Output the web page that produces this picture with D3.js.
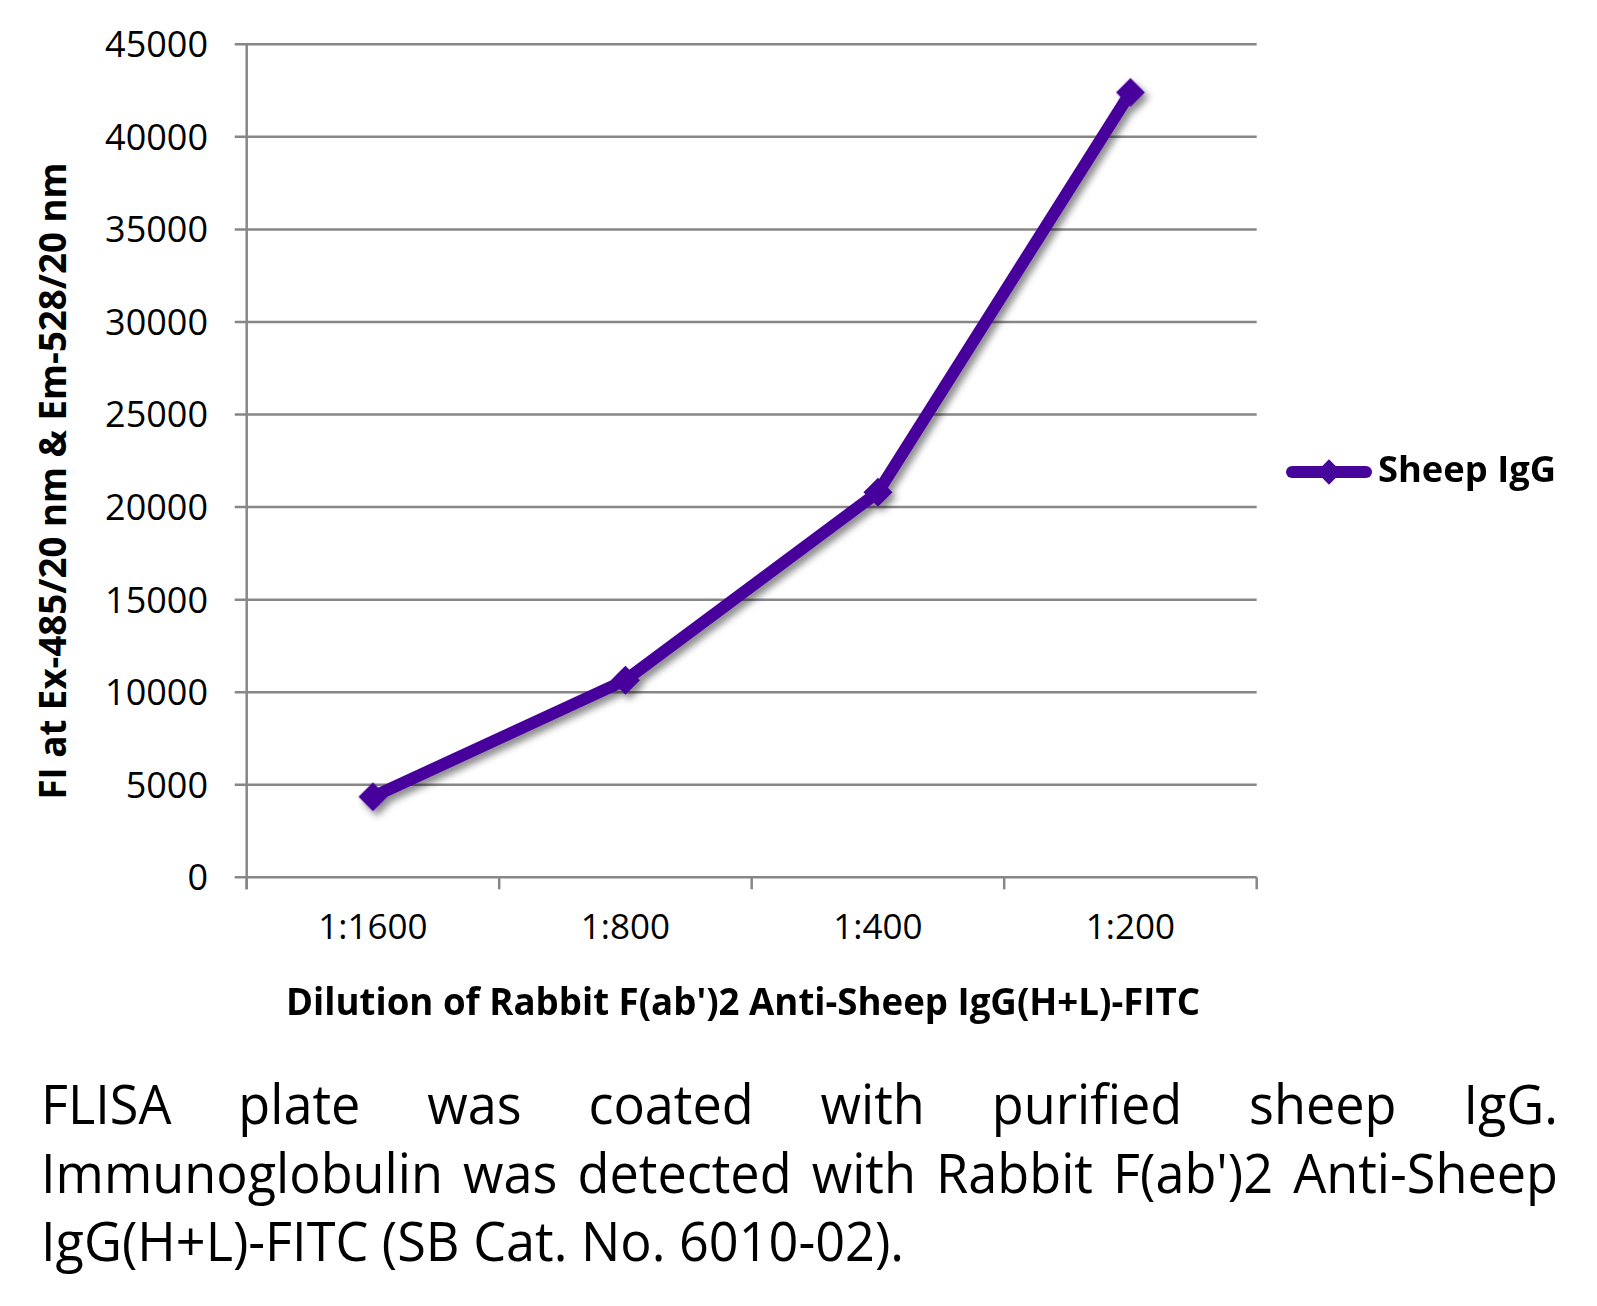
<!DOCTYPE html>
<html>
<head>
<meta charset="utf-8">
<script src="https://cdn.jsdelivr.net/npm/d3@7"></script>
<style>
  html, body { margin: 0; padding: 0; background: #fff; }
  svg { display: block; }
</style>
</head>
<body>
<svg id="chart" width="1597" height="1306"></svg>
<script>
// ---- data ----
const categories = ["1:1600", "1:800", "1:400", "1:200"];
const seriesName = "Sheep IgG";
const values = [4350, 10650, 20800, 42400];
const yTicks = [0, 5000, 10000, 15000, 20000, 25000, 30000, 35000, 40000, 45000];
const yTitle = "FI at Ex-485/20 nm & Em-528/20 nm";
const xTitle = "Dilution of Rabbit F(ab')2 Anti-Sheep IgG(H+L)-FITC";
const captionLines = [
  "FLISA plate was coated with purified sheep IgG.",
  "Immunoglobulin was detected with Rabbit F(ab')2 Anti-Sheep",
  "IgG(H+L)-FITC (SB Cat. No. 6010-02)."
];

const W = 1597, H = 1306;
const m = { left: 246.7, right: 1256.7, top: 44.3, bottom: 877.3 };
const lineColor = "#47069b";
const gridColor = "#878787";
const font = "'Open Sans', 'Noto Sans', sans-serif";

const svg = d3.select("#chart");

const defs = svg.append("defs");
const f = defs.append("filter").attr("id", "shadow")
  .attr("x", "-10%").attr("y", "-10%").attr("width", "130%").attr("height", "130%");
f.append("feDropShadow").attr("dx", 4).attr("dy", 5).attr("stdDeviation", 3.5)
  .attr("flood-color", "#000").attr("flood-opacity", 0.45);

const x = d3.scaleBand().domain(categories).range([m.left, m.right]).paddingInner(0).paddingOuter(0);
const y = d3.scaleLinear().domain([0, 45000]).range([m.bottom, m.top]);

// gridlines
svg.append("g").selectAll("line").data(yTicks).join("line")
  .attr("x1", m.left - 12).attr("x2", m.right)
  .attr("y1", d => y(d)).attr("y2", d => y(d))
  .attr("stroke", gridColor).attr("stroke-width", 2.5);

// y axis line
svg.append("line").attr("x1", m.left).attr("x2", m.left)
  .attr("y1", m.top).attr("y2", m.bottom + 12)
  .attr("stroke", gridColor).attr("stroke-width", 2.5);

// y tick labels
svg.append("g").selectAll("text").data(yTicks).join("text")
  .attr("x", 208).attr("y", d => y(d)).attr("dy", "0.36em")
  .attr("text-anchor", "end")
  .style("font-family", font).style("font-size", "36px").attr("fill", "#000")
  .text(d => d);

// x axis ticks (band boundaries)
const bounds = categories.map(c => x(c)).concat([x(categories[categories.length - 1]) + x.bandwidth()]);
svg.append("g").selectAll("line").data(bounds).join("line")
  .attr("x1", d => d).attr("x2", d => d)
  .attr("y1", m.bottom).attr("y2", m.bottom + 12)
  .attr("stroke", gridColor).attr("stroke-width", 2.5);

// x tick labels
svg.append("g").selectAll("text").data(categories).join("text")
  .attr("x", d => x(d) + x.bandwidth() / 2).attr("y", 939)
  .attr("text-anchor", "middle")
  .style("font-family", font).style("font-size", "35px").attr("fill", "#000")
  .text(d => d);

// series line
const pts = categories.map((c, i) => [x(c) + x.bandwidth() / 2, y(values[i])]);
const g = svg.append("g").attr("filter", "url(#shadow)");
g.append("path").attr("d", d3.line()(pts))
  .attr("fill", "none").attr("stroke", lineColor).attr("stroke-width", 12)
  .attr("stroke-linejoin", "round").attr("stroke-linecap", "round");
g.selectAll("path.mk").data(pts).join("path").attr("class", "mk")
  .attr("d", d3.symbol().type(d3.symbolSquare).size(420))
  .attr("transform", d => `translate(${d[0]},${d[1]}) rotate(45)`)
  .attr("fill", lineColor);

// y title
svg.append("text")
  .attr("transform", `translate(66, 481) rotate(-90)`)
  .attr("text-anchor", "middle")
  .style("font-family", font).style("font-size", "37px").style("font-weight", "bold")
  .attr("textLength", 637).attr("lengthAdjust", "spacingAndGlyphs")
  .attr("fill", "#000").text(yTitle);

// x title
svg.append("text")
  .attr("x", 743).attr("y", 1015).attr("text-anchor", "middle")
  .style("font-family", font).style("font-size", "37px").style("font-weight", "bold")
  .attr("textLength", 914).attr("lengthAdjust", "spacingAndGlyphs")
  .attr("fill", "#000").text(xTitle);

// legend
const lg = svg.append("g");
lg.append("line").attr("x1", 1292).attr("x2", 1366).attr("y1", 472).attr("y2", 472)
  .attr("stroke", lineColor).attr("stroke-width", 12).attr("stroke-linecap", "round");
lg.append("path").attr("transform", "translate(1329,472) rotate(45)")
  .attr("d", d3.symbol().type(d3.symbolSquare).size(320)).attr("fill", lineColor);
lg.append("text").attr("x", 1378).attr("y", 482)
  .style("font-family", font).style("font-size", "35px").style("font-weight", "bold")
  .attr("textLength", 178).attr("lengthAdjust", "spacingAndGlyphs")
  .attr("fill", "#000").text(seriesName);

// caption (justified)
const capX0 = 41, capX1 = 1558, capFont = 54;
const baselines = [1124, 1193, 1261];
const justify = [true, true, false];
const capG = svg.append("g");
function measure(txt) {
  const t = capG.append("text").style("font-family", font).style("font-size", capFont + "px").text(txt);
  const w = t.node().getComputedTextLength();
  t.remove();
  return w;
}
const spaceW = measure("a a") - measure("aa");
const lastNatural = measure(captionLines[2]);
const condense = 863 / lastNatural;
captionLines.forEach((line, li) => {
  const words = line.split(" ");
  const ws = words.map(w => measure(w) * condense);
  const total = d3.sum(ws);
  const gap = justify[li] ? (capX1 - capX0 - total) / (words.length - 1) : spaceW * condense;
  let cx = capX0;
  words.forEach((w, i) => {
    capG.append("text").attr("x", cx).attr("y", baselines[li])
      .style("font-family", font).style("font-size", capFont + "px")
      .attr("textLength", ws[i]).attr("lengthAdjust", "spacingAndGlyphs")
      .attr("fill", "#000").text(w);
    cx += ws[i] + gap;
  });
});
</script>
</body>
</html>
